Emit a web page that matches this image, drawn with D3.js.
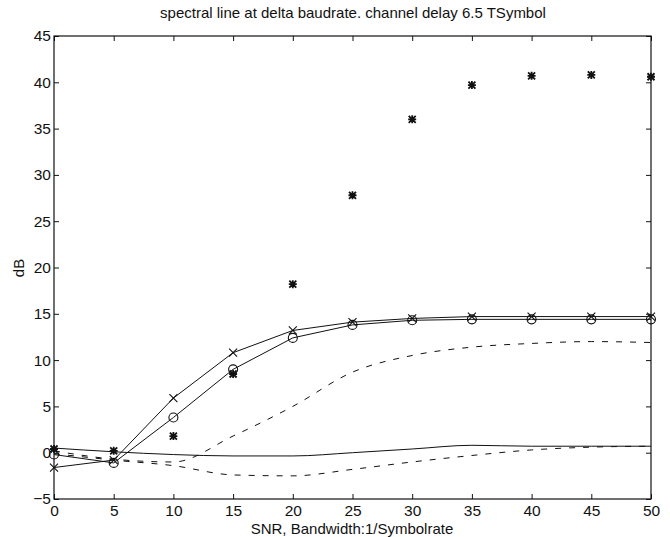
<!DOCTYPE html>
<html>
<head>
  <meta charset="utf-8">
  <title></title>
  <style>
    body { margin: 0; background: #fff; }
    text { font-family: "Liberation Sans", Arial, sans-serif; fill: #111; }
    .axis path, .axis line { stroke: #111; }
  </style>
</head>
<body>
<svg width="670" height="537"></svg>
<script src="https://cdn.jsdelivr.net/npm/d3@7"></script>
<script>

// SNR values (x)
var snr = [0, 5, 10, 15, 20, 25, 30, 35, 40, 45, 50];

// series, dB
var crossLine  = [-1.6, -0.8, 5.9, 10.8, 13.2, 14.1, 14.5, 14.7, 14.7, 14.7, 14.7];
var circleLine = [-0.2, -1.1, 3.8, 9.0, 12.4, 13.8, 14.3, 14.4, 14.4, 14.4, 14.4];
var starPoints = [0.4, 0.2, 1.8, 8.5, 18.2, 27.8, 36.0, 39.7, 40.7, 40.8, 40.6];
var flatSolid  = [0.5, 0.1, -0.2, -0.35, -0.35, 0.0, 0.4, 0.8, 0.7, 0.7, 0.7];
var upperDash  = [0.2, -0.7, -1.0, 1.8, 5.0, 8.7, 10.5, 11.4, 11.8, 12.0, 11.9];
var lowerDash  = [-0.1, -0.8, -1.4, -2.4, -2.5, -1.8, -1.0, -0.3, 0.3, 0.6, 0.7];

var xTicks = [0, 5, 10, 15, 20, 25, 30, 35, 40, 45, 50];
var yTicks = [-5, 0, 5, 10, 15, 20, 25, 30, 35, 40, 45];

var svg = d3.select("svg");
var pLeft = 54, pRight = 651, pTop = 36, pBottom = 499;

var x = d3.scaleLinear().domain([0, 50]).range([pLeft, pRight]);
var y = d3.scaleLinear().domain([-5, 45]).range([pBottom, pTop]);

// frame + inward ticks on all sides
svg.append("rect")
	.attr("x", pLeft).attr("y", pTop)
	.attr("width", pRight - pLeft).attr("height", pBottom - pTop)
	.attr("fill", "none").attr("stroke", "#111").attr("stroke-width", 1.2);

svg.append("g").attr("class", "axis")
	.attr("transform", "translate(0," + pBottom + ")")
	.call(d3.axisBottom(x).tickValues(xTicks).tickSizeInner(-5).tickSizeOuter(0).tickPadding(6))
	.call(function(g) { g.select(".domain").remove(); })
	.selectAll("text").attr("font-size", 15.5);

svg.append("g").attr("class", "axis")
	.attr("transform", "translate(0," + pTop + ")")
	.call(d3.axisTop(x).tickValues(xTicks).tickSizeInner(-5).tickSizeOuter(0).tickFormat(""))
	.call(function(g) { g.select(".domain").remove(); });

svg.append("g").attr("class", "axis")
	.attr("transform", "translate(" + pLeft + ",0)")
	.call(d3.axisLeft(y).tickValues(yTicks).tickSizeInner(-5).tickSizeOuter(0).tickPadding(3))
	.call(function(g) { g.select(".domain").remove(); })
	.selectAll("text").attr("font-size", 15.5);

svg.append("g").attr("class", "axis")
	.attr("transform", "translate(" + pRight + ",0)")
	.call(d3.axisRight(y).tickValues(yTicks).tickSizeInner(-5).tickSizeOuter(0).tickFormat(""))
	.call(function(g) { g.select(".domain").remove(); });

// labels
svg.append("text").attr("x", 353).attr("y", 18)
	.attr("text-anchor", "middle").attr("font-size", 15)
	.text("spectral line at delta baudrate. channel delay 6.5 TSymbol");

svg.append("text").attr("x", 352).attr("y", 534)
	.attr("text-anchor", "middle").attr("font-size", 15)
	.text("SNR, Bandwidth:1/Symbolrate");

svg.append("text")
	.attr("transform", "translate(24,268) rotate(-90)")
	.attr("text-anchor", "middle").attr("font-size", 15)
	.text("dB");

// lines
var plot = svg.append("g");

function drawLine(vals, dash, curve) {
	var line = d3.line()
		.x(function(d, i) { return x(snr[i]); })
		.y(function(d) { return y(d); })
		.curve(curve || d3.curveLinear);
	plot.append("path")
		.datum(vals)
		.attr("d", line)
		.attr("fill", "none")
		.attr("stroke", "#111")
		.attr("stroke-width", 1)
		.attr("stroke-dasharray", dash || null);
}

drawLine(flatSolid, null, d3.curveMonotoneX);
drawLine(upperDash, "6,8", d3.curveMonotoneX);
drawLine(lowerDash, "6,8", d3.curveMonotoneX);
drawLine(crossLine);
drawLine(circleLine);

// markers
plot.selectAll(".cross").data(crossLine).enter().append("path")
	.attr("transform", function(d, i) { return "translate(" + x(snr[i]) + "," + y(d) + ")"; })
	.attr("d", "M-4,-4L4,4M-4,4L4,-4")
	.attr("stroke", "#111").attr("stroke-width", 1.1);

plot.selectAll(".circ").data(circleLine).enter().append("circle")
	.attr("cx", function(d, i) { return x(snr[i]); })
	.attr("cy", function(d) { return y(d); })
	.attr("r", 4.5)
	.attr("fill", "none").attr("stroke", "#111").attr("stroke-width", 1.1);

plot.selectAll(".star").data(starPoints).enter().append("path")
	.attr("transform", function(d, i) { return "translate(" + x(snr[i]) + "," + y(d) + ")"; })
	.attr("d", "M-3.5,-3.5L3.5,3.5M-3.5,3.5L3.5,-3.5M0,-4L0,4M-4,0L4,0")
	.attr("stroke", "#111").attr("stroke-width", 1.8);

</script>
</body>
</html>
